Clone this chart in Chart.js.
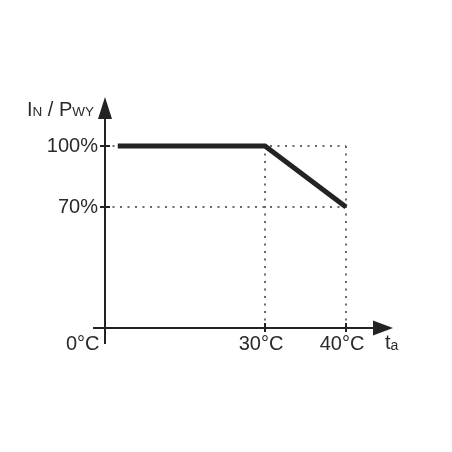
<!DOCTYPE html>
<html>
<head>
<meta charset="utf-8">
<script src="https://cdn.jsdelivr.net/npm/chart.js@4"></script>
<style>
  html, body { margin: 0; padding: 0; background: #fff; }
  #wrap { width: 452px; height: 452px; }
</style>
</head>
<body>
<div id="wrap"><canvas id="derating"></canvas></div>
<script>
// derating curve: rated current / power vs ambient temperature
const temps = [0, 30, 40];          // °C
const rating = [100, 100, 70];      // % of I_N / P_WY
const xTicks = [30, 40];
const yTicks = [100, 70];

const INK = '#232323';
const FONT = '"Liberation Sans", Arial, sans-serif';

// schematic x axis: the 0..30 stretch is drawn compressed, 30..40 to scale
class SchematicScale extends Chart.LinearScale {
  getPixelForValue(value) {
    if (value === null || value === undefined) return NaN;
    const min = this.min, max = this.max, knee = this.options.knee, share = this.options.kneeShare;
    let dec;
    if (value <= knee) dec = (value - min) / (knee - min) * share;
    else dec = share + (value - knee) / (max - knee) * (1 - share);
    return this.getPixelForDecimal(dec);
  }
}
SchematicScale.id = 'schematic';
SchematicScale.defaults = Chart.LinearScale.defaults;
Chart.register(SchematicScale);

const axesPlugin = {
  id: 'axes',
  afterDraw(chart) {
    const { ctx, chartArea: a, scales: { x, y } } = chart;
    const ox = a.left, oy = a.bottom;
    ctx.save();
    ctx.strokeStyle = INK;
    ctx.fillStyle = INK;
    ctx.lineWidth = 2;
    ctx.setLineDash([]);

    // axis lines
    ctx.beginPath();
    ctx.moveTo(ox, oy + 16);
    ctx.lineTo(ox, 112);
    ctx.moveTo(ox - 12, oy);
    ctx.lineTo(378, oy);
    ctx.stroke();

    // arrow heads
    ctx.beginPath();
    ctx.moveTo(ox, 97);
    ctx.lineTo(ox - 7, 119);
    ctx.lineTo(ox + 7, 119);
    ctx.closePath();
    ctx.fill();
    ctx.beginPath();
    ctx.moveTo(393, oy);
    ctx.lineTo(373, oy - 7.5);
    ctx.lineTo(373, oy + 7.5);
    ctx.closePath();
    ctx.fill();

    // crossing tick marks
    ctx.beginPath();
    yTicks.forEach(v => {
      const py = y.getPixelForValue(v);
      ctx.moveTo(ox - 5, py);
      ctx.lineTo(ox + 5, py);
    });
    xTicks.forEach(v => {
      const px = x.getPixelForValue(v);
      ctx.moveTo(px, oy - 5);
      ctx.lineTo(px, oy + 4);
    });
    ctx.stroke();

    // labels
    ctx.textBaseline = 'alphabetic';
    ctx.textAlign = 'left';
    ctx.fillStyle = '#2a2a2a';
    ctx.font = '20px ' + FONT;
    ctx.fillText('0°C', ox - 39, 350);

    // y title: I_N / P_WY (small caps subscripts)
    let tx = 27;
    const parts = [['I', 20], ['N', 13.5], [' / P', 20], ['WY', 13.5]];
    parts.forEach(([t, s]) => {
      ctx.font = s + 'px ' + FONT;
      ctx.fillText(t, tx, 116);
      tx += ctx.measureText(t).width;
    });

    // x title: t_a
    ctx.font = '20px ' + FONT;
    ctx.fillText('t', 385, 349);
    const tw = ctx.measureText('t').width;
    ctx.font = '14px ' + FONT;
    ctx.fillText('a', 385 + tw, 350);
    ctx.restore();
  }
};

new Chart(document.getElementById('derating'), {
  type: 'line',
  data: {
    datasets: [{
      data: temps.map((t, i) => ({ x: t, y: rating[i] })),
      borderColor: INK,
      borderWidth: 5,
      borderJoinStyle: 'miter',
      borderCapStyle: 'butt',
      pointRadius: 0,
      tension: 0,
      clip: false
    }]
  },
  options: {
    responsive: true,
    maintainAspectRatio: false,
    animation: false,
    events: [],
    layout: { padding: { top: 146, right: 106, left: 0, bottom: 84 } },
    plugins: { legend: { display: false }, tooltip: { enabled: false } },
    scales: {
      x: {
        type: 'schematic',
        min: -2.6,
        max: 40,
        knee: 30,
        kneeShare: 160 / 241,
        afterBuildTicks: s => { s.ticks = xTicks.map(v => ({ value: v })); },
        afterFit: s => { s.height = 40; },
        border: { display: false, dash: [2, 5.5] },
        grid: { color: '#6a6a6a', lineWidth: 2, drawTicks: false },
        ticks: {
          padding: 4,
          labelOffset: -4,
          color: '#2a2a2a',
          font: { family: FONT, size: 20 },
          callback: v => v + '°C'
        }
      },
      y: {
        min: 10.5,
        max: 100,
        afterBuildTicks: s => { s.ticks = yTicks.map(v => ({ value: v })); },
        afterFit: s => { s.width = 105; },
        border: { display: false, dash: [2, 5.5] },
        grid: { color: '#6a6a6a', lineWidth: 2, drawTicks: false },
        ticks: {
          padding: 7,
          color: '#2a2a2a',
          font: { family: FONT, size: 20 },
          callback: v => v + '%'
        }
      }
    }
  },
  plugins: [axesPlugin]
});
</script>
</body>
</html>
